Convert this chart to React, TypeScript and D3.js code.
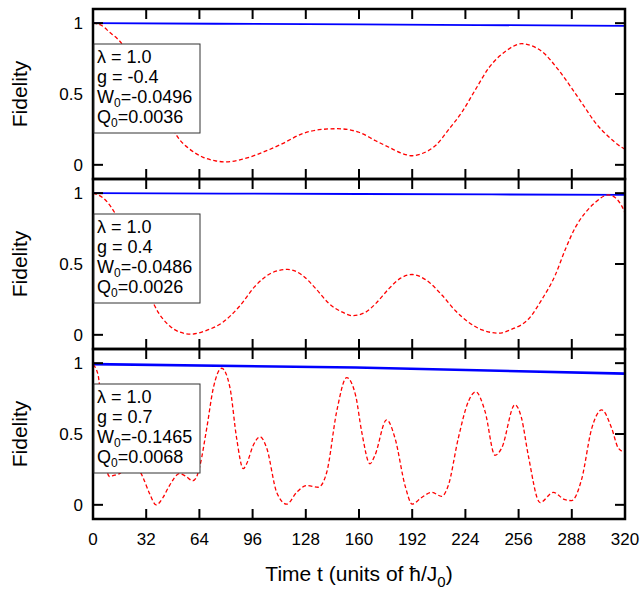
import * as d3 from "d3";

// time axis ticks and fidelity ticks
const timeTicks = [0, 32, 64, 96, 128, 160, 192, 224, 256, 288, 320];
const fidelityTicks = [0, 0.5, 1];

// fidelity of the perturbed state (red dashed), [t, F]
const red1: [number, number][] = [
  [0, 1], [5, 0.985], [10, 0.936], [16, 0.874], [24, 0.74], [32, 0.58], [40, 0.42],
  [46, 0.3], [51, 0.195], [58, 0.112], [66, 0.055], [74, 0.027], [80, 0.021],
  [90, 0.04], [102, 0.088], [114, 0.15], [126, 0.22], [136, 0.248], [147, 0.255],
  [160, 0.23], [170, 0.17], [178, 0.124], [186, 0.08], [192, 0.064], [198, 0.08],
  [206, 0.136], [214, 0.25], [222, 0.374], [230, 0.53], [238, 0.683], [248, 0.8],
  [258, 0.855], [264, 0.84], [270, 0.8], [280, 0.67], [288, 0.54], [295, 0.42],
  [302, 0.3], [310, 0.2], [318, 0.124], [320, 0.11],
];
const red2: [number, number][] = [
  [0, 1], [7, 0.957], [11, 0.9], [16, 0.8], [22, 0.65], [28, 0.47], [33, 0.32],
  [37, 0.207], [46, 0.064], [52, 0.02], [59, 0.005], [68, 0.03], [78, 0.088],
  [88, 0.2], [98, 0.35], [108, 0.44], [117, 0.462], [126, 0.42], [134, 0.326],
  [142, 0.22], [150, 0.16], [156, 0.135], [164, 0.16], [170, 0.22], [178, 0.326],
  [185, 0.4], [192, 0.426], [200, 0.39], [210, 0.279], [218, 0.17], [226, 0.088],
  [234, 0.035], [244, 0.012], [252, 0.04], [262, 0.112], [270, 0.25], [278, 0.42],
  [284, 0.6], [290, 0.755], [296, 0.86], [302, 0.933], [310, 0.988], [314, 0.97],
  [318, 0.91], [320, 0.86],
];
const red3: [number, number][] = [
  [0, 0.99], [3, 0.92], [5, 0.7], [7.5, 0.3], [10, 0.2], [13, 0.21], [16, 0.22],
  [22, 0.3], [27, 0.26], [30, 0.195], [34, 0.08], [38, 0.0], [42, 0.05],
  [46, 0.136], [52, 0.22], [56, 0.2], [60, 0.17], [62, 0.19], [64.4, 0.28],
  [68.4, 0.54], [72.4, 0.826], [77.4, 0.964], [82.4, 0.826], [86.4, 0.469],
  [90.4, 0.255], [92.4, 0.29], [96.4, 0.42], [100.5, 0.48], [104.5, 0.4],
  [110.5, 0.088], [116.5, 0.005], [122.5, 0.088], [128.5, 0.136], [135.5, 0.124],
  [140.6, 0.23], [146.6, 0.66], [152.6, 0.898], [158, 0.77], [161.6, 0.517],
  [166.6, 0.29], [169.6, 0.35], [176.6, 0.6], [181.7, 0.469], [187.7, 0.136],
  [192, 0.005], [197.7, 0.052], [203.7, 0.088], [209.7, 0.06], [213.7, 0.136],
  [219.7, 0.469], [225.8, 0.73], [230.2, 0.798], [235.8, 0.66], [241.8, 0.35],
  [245.8, 0.4], [253.8, 0.707], [257.8, 0.61], [261.8, 0.35], [268.9, 0.016],
  [276.9, 0.088], [283.9, 0.036], [287.9, 0.03], [293.9, 0.18], [300, 0.54],
  [306, 0.67], [312, 0.54], [316, 0.4], [320, 0.37],
];

// fidelity of the reference state (blue solid), [t, F]
const blue1: [number, number][] = [[0, 1], [160, 0.991], [320, 0.981]];
const blue2: [number, number][] = [[0, 1], [160, 0.994], [320, 0.988]];
const blue3: [number, number][] = [[0, 0.993], [158, 0.969], [320, 0.926]];

// legend texts per panel
const lambdas = ["1.0", "1.0", "1.0"];
const gValues = ["-0.4", "0.4", "0.7"];
const w0Values = ["-0.0496", "-0.0486", "-0.1465"];
const q0Values = ["0.0036", "0.0026", "0.0068"];

const panels = [
  { red: red1, blue: blue1, blueWidth: 1.8 },
  { red: red2, blue: blue2, blueWidth: 1.8 },
  { red: red3, blue: blue3, blueWidth: 2.6 },
];

const font = "'Liberation Sans', Arial, Helvetica, sans-serif";
const left = 93;
const right = 625;
const top0 = 9;
const panelH = 170;
const tickLen = 10;

const x = d3.scaleLinear().domain([0, 320]).range([left, right]);

const Panel = ({ i }: { i: number }) => {
  const p = panels[i];
  const top = top0 + i * panelH;
  const bottom = top + panelH;
  const y = d3.scaleLinear().domain([-0.1, 1.1]).range([bottom, top]);
  const line = d3
    .line<[number, number]>()
    .x((d) => x(d[0]))
    .y((d) => y(d[1]))
    .curve(d3.curveMonotoneX);
  const last = i === panels.length - 1;
  const boxTop = top + 35;
  return (
    <g>
      <clipPath id={"clip" + i}>
        <rect x={left} y={top} width={right - left} height={panelH} />
      </clipPath>
      <g clipPath={`url(#clip${i})`}>
        <path d={line(p.blue) || ""} fill="none" stroke="#0000ff" strokeWidth={p.blueWidth} />
        <path
          d={line(p.red) || ""}
          fill="none"
          stroke="#ff0000"
          strokeWidth={1.3}
          strokeDasharray="4,2.5"
        />
      </g>
      {timeTicks.map((t) => (
        <g key={"xt" + t} stroke="#000" strokeWidth={2}>
          <line x1={x(t)} x2={x(t)} y1={bottom} y2={bottom - tickLen} />
          <line x1={x(t)} x2={x(t)} y1={top} y2={top + tickLen} />
        </g>
      ))}
      {fidelityTicks.map((f) => (
        <g key={"yt" + f}>
          <line x1={left} x2={left + tickLen} y1={y(f)} y2={y(f)} stroke="#000" strokeWidth={2} />
          <line x1={right} x2={right - tickLen} y1={y(f)} y2={y(f)} stroke="#000" strokeWidth={2} />
          <text
            x={83}
            y={y(f)}
            dy="0.36em"
            textAnchor="end"
            fontSize={17}
            fontFamily={font}
            fill="#000"
          >
            {String(f)}
          </text>
        </g>
      ))}
      <rect
        x={left}
        y={top}
        width={right - left}
        height={panelH}
        fill="none"
        stroke="#000"
        strokeWidth={2.5}
      />
      <g>
        <rect x={94} y={boxTop} width={106} height={89} fill="#fff" stroke="#333" strokeWidth={1} />
        <g fontFamily={font} fontSize={18} fill="#000">
          <text x={97} y={boxTop + 19}>{"λ = " + lambdas[i]}</text>
          <text x={97} y={boxTop + 39}>{"g = " + gValues[i]}</text>
          <text x={97} y={boxTop + 59}>
            W<tspan fontSize={12} dy={4}>0</tspan>
            <tspan dy={-4}>{"=" + w0Values[i]}</tspan>
          </text>
          <text x={97} y={boxTop + 79}>
            Q<tspan fontSize={12} dy={4}>0</tspan>
            <tspan dy={-4}>{"=" + q0Values[i]}</tspan>
          </text>
        </g>
      </g>
      <text
        transform={`translate(27,${(top + bottom) / 2}) rotate(-90)`}
        textAnchor="middle"
        fontSize={21}
        fontFamily={font}
        fill="#000"
      >
        Fidelity
      </text>
      {last &&
        timeTicks.map((t) => (
          <text
            key={"xl" + t}
            x={x(t)}
            y={bottom + 26}
            textAnchor="middle"
            fontSize={17}
            fontFamily={font}
            fill="#000"
          >
            {t}
          </text>
        ))}
    </g>
  );
};

export default function App() {
  return (
    <svg
      width={642}
      height={593}
      style={{ position: "absolute", left: 0, top: 0, background: "#fff" }}
    >
      <rect width={642} height={593} fill="#fff" />
      {panels.map((_, i) => (
        <Panel key={i} i={i} />
      ))}
      <text
        x={(left + right) / 2}
        y={581}
        textAnchor="middle"
        fontSize={21}
        fontFamily={font}
        fill="#000"
      >
        Time t (units of ħ/J<tspan fontSize={15} dy={6}>0</tspan>
        <tspan dy={-6}>)</tspan>
      </text>
    </svg>
  );
}
